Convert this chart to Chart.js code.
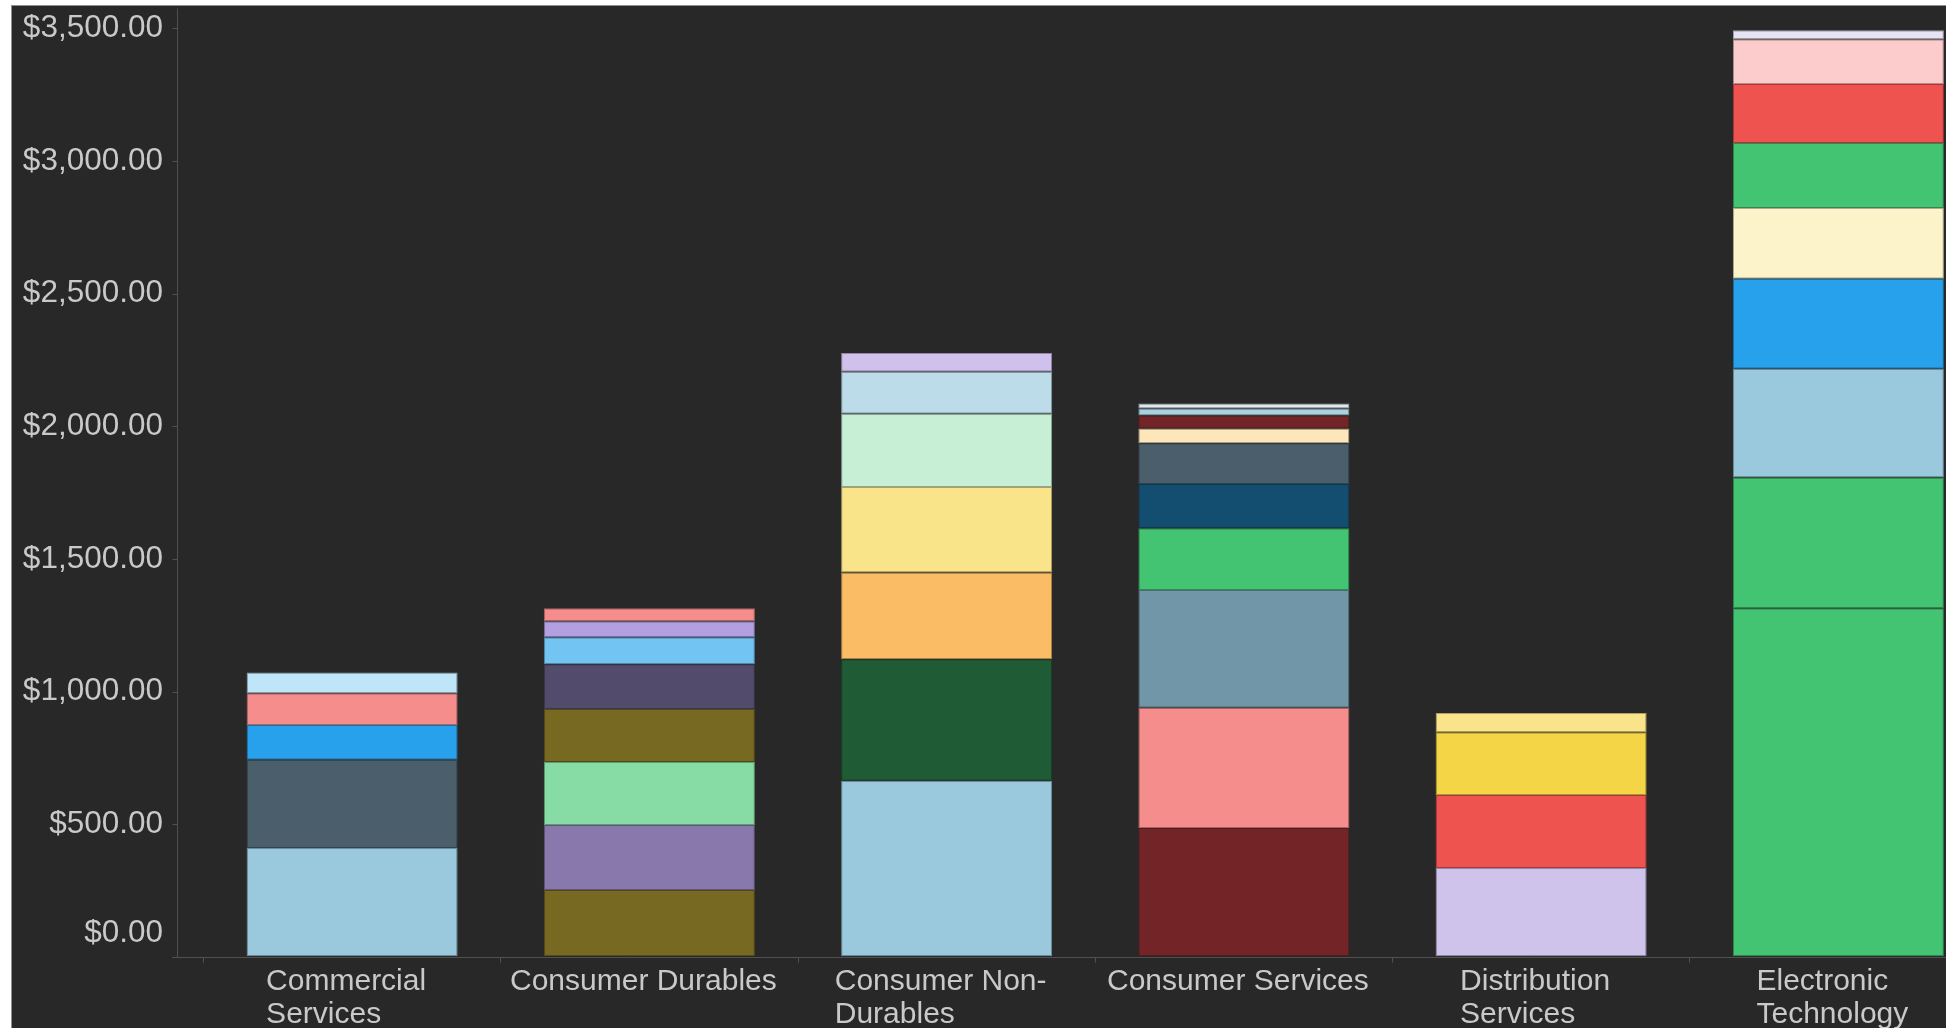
<!DOCTYPE html>
<html lang="en">
<head>
    <meta charset="UTF-8">
    <title>Holdings by Sector</title>
    <style>
        body {
            margin: 0;
            background: #ffffff;
            overflow: hidden;
        }
        .frame {
            position: absolute;
            left: 11px;
            top: 5px;
            width: 1976px;
            height: 1028px;
            background: #282828;
            border-left: 1px solid #8e8e8e;
            border-top: 1px solid #8e8e8e;
        }
    </style>
    <script src="https://cdn.jsdelivr.net/npm/chart.js"></script>
</head>
<body>
    <div class="frame">
        <canvas id="sectorChart"></canvas>
    </div>

    <script>
        // sectors on the x axis
        const sectors = [
            ['Commercial', 'Services'],
            ['Consumer Durables'],
            ['Consumer Non-', 'Durables'],
            ['Consumer Services'],
            ['Distribution', 'Services'],
            ['Electronic', 'Technology']
        ];

        // stacked segment values per sector, bottom to top
        const commercialServices = [410, 333, 131, 120, 78];
        const consumerDurables = [252, 245, 237, 200, 169, 102, 60, 49];
        const consumerNonDurables = [664, 458, 327, 322, 276, 159, 70];
        const consumerServices = [486, 453, 444, 233, 166, 154, 56, 49, 26, 19];
        const distributionServices = [335, 275, 237, 72];
        const electronicTechnology = [1314, 493, 410, 339, 267, 245, 222, 169, 34];

        // y axis ticks
        const yTicks = [0, 500, 1000, 1500, 2000, 2500, 3000, 3500];

        // segment colours, same order as the values
        const commercialColors = ['#9ac8dd', '#4a5f6b', '#27a1eb', '#f58d8c', '#bfe5f9'];
        const durablesColors = ['#776822', '#8878ac', '#86dca4', '#776822', '#534b6b', '#72c4f3', '#b3a0e2', '#f58d8c'];
        const nonDurablesColors = ['#9ac8dd', '#1f5c36', '#fabd66', '#f9e48a', '#c6efd5', '#bcdce9', '#cfc1ec'];
        const servicesColors = ['#722426', '#f58d8c', '#7196a7', '#43c472', '#134e71', '#4a5f6b', '#fee6bb', '#722426', '#a9d1e2', '#dfe9ef'];
        const distributionColors = ['#cfc3ec', '#ef5350', '#f4d545', '#f9e48a'];
        const electronicColors = ['#43c472', '#43c472', '#9ac8dd', '#27a1eb', '#fcf3cb', '#43c472', '#ef5350', '#fccbcb', '#e6e4f4'];

        const values = [commercialServices, consumerDurables, consumerNonDurables, consumerServices, distributionServices, electronicTechnology];
        const colors = [commercialColors, durablesColors, nonDurablesColors, servicesColors, distributionColors, electronicColors];

        const axisColor = '#505050';
        const textColor = '#c9c9c9';
        const fontFamily = 'Arial, "Liberation Sans", sans-serif';

        function darker(hex) {
            const n = parseInt(hex.slice(1), 16);
            const f = 0.7;
            const r = Math.round(((n >> 16) & 255) * f);
            const g = Math.round(((n >> 8) & 255) * f);
            const b = Math.round((n & 255) * f);
            return `rgb(${r},${g},${b})`;
        }

        // one dataset per stack level
        const levels = Math.max(...values.map(v => v.length));
        const datasets = [];
        for (let k = 0; k < levels; k++) {
            datasets.push({
                data: values.map(v => v[k] ?? null),
                backgroundColor: colors.map(c => c[k] || 'transparent'),
                borderColor: colors.map(c => c[k] ? darker(c[k]) : 'transparent'),
                borderWidth: 1,
                borderSkipped: false,
                stack: 'all'
            });
        }

        // axis lines sit a little left of the first category
        const axisLines = {
            id: 'axisLines',
            beforeDatasetsDraw(chart) {
                const { ctx, chartArea, scales } = chart;
                const x0 = Math.round(chartArea.left - 26.5) + 0.5;
                const yb = Math.round(chartArea.bottom) + 0.5;
                ctx.save();
                ctx.strokeStyle = axisColor;
                ctx.lineWidth = 1;
                ctx.beginPath();
                ctx.moveTo(x0, chartArea.top - 20);
                ctx.lineTo(x0, yb);
                ctx.moveTo(x0 - 5, yb);
                ctx.lineTo(chartArea.right, yb);
                scales.y.ticks.forEach(t => {
                    const py = Math.round(scales.y.getPixelForValue(t.value)) + 0.5;
                    ctx.moveTo(x0 - 5, py);
                    ctx.lineTo(x0, py);
                });
                ctx.stroke();
                ctx.restore();
            }
        };

        // lift the $0.00 label above the axis, left-align wrapped category names
        const labelTweaks = {
            id: 'labelTweaks',
            beforeDraw(chart) {
                const { ctx, scales } = chart;
                scales.y.getLabelItems().forEach(item => {
                    if (item.label === scales.y.ticks[0].label && !item.moved) {
                        item.options.translation[1] -= 23;
                        item.moved = true;
                    }
                });
                scales.x.getLabelItems().forEach(item => {
                    if (Array.isArray(item.label) && item.label.length > 1 && !item.moved) {
                        ctx.save();
                        ctx.font = item.font.string;
                        const w = Math.max(...item.label.map(s => ctx.measureText(s).width));
                        ctx.restore();
                        item.options.textAlign = 'left';
                        item.options.translation[0] -= w / 2;
                        item.moved = true;
                    }
                });
            }
        };

        new Chart(document.getElementById('sectorChart'), {
            type: 'bar',
            data: { labels: sectors, datasets },
            plugins: [axisLines, labelTweaks],
            options: {
                responsive: true,
                maintainAspectRatio: false,
                animation: false,
                layout: { padding: { top: 22, right: 1, bottom: 0, left: 0 } },
                datasets: { bar: { barPercentage: 0.71, categoryPercentage: 1 } },
                plugins: { legend: { display: false }, tooltip: { enabled: false } },
                scales: {
                    x: {
                        stacked: true,
                        border: { display: false },
                        grid: { offset: true, drawOnChartArea: false, drawTicks: true, tickLength: 6, color: axisColor },
                        ticks: {
                            color: textColor,
                            padding: 2,
                            labelOffset: -6,
                            maxRotation: 0,
                            autoSkip: false,
                            font: { family: fontFamily, size: 30, lineHeight: 1.12 }
                        }
                    },
                    y: {
                        stacked: true,
                        min: yTicks[0],
                        max: yTicks[yTicks.length - 1],
                        afterFit(scale) { scale.width = 191.5; },
                        afterBuildTicks(scale) { scale.ticks = yTicks.map(v => ({ value: v })); },
                        border: { display: false },
                        grid: { display: true, drawOnChartArea: false, drawTicks: true, tickLength: 37, color: 'transparent' },
                        ticks: {
                            color: textColor,
                            padding: 3.5,
                            font: { family: fontFamily, size: 31.5 },
                            callback: v => '$' + Number(v).toLocaleString('en-US', { minimumFractionDigits: 2, maximumFractionDigits: 2 })
                        }
                    }
                }
            }
        });
    </script>
</body>
</html>
